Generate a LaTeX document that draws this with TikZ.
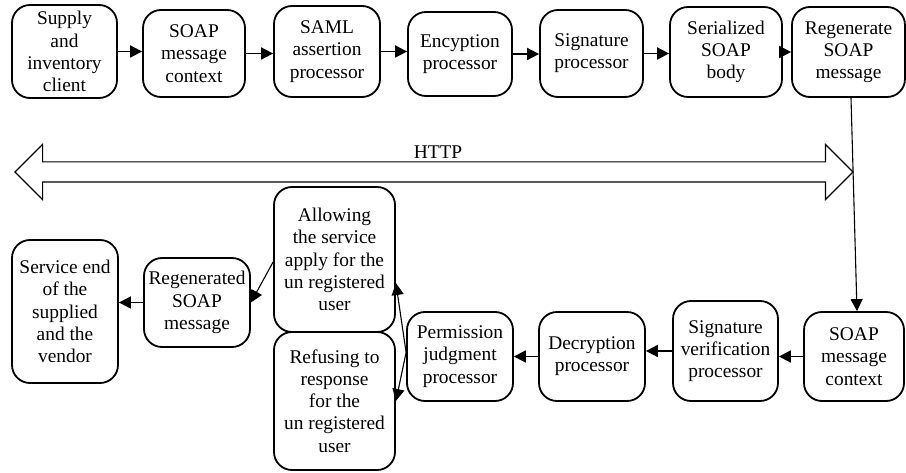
\documentclass[tikz,border=0pt]{standalone}
\usepackage{fontspec}
\setmainfont{Liberation Serif}
\usetikzlibrary{shapes.arrows}
\usetikzlibrary{arrows.meta}
\tikzset{>={Triangle[length=12pt,width=12pt]}}
\tikzset{
  procbox/.style={
    draw, line width=1.8pt, rounded corners=18pt,
    align=center, inner sep=0pt,
    font=\fontsize{19.4pt}{22.2pt}\selectfont
  }}
\tikzset{
  flow/.style={->, line width=1.8pt}}
\tikzset{
  thinflow/.style={->, line width=1.1pt}}

\begin{document}
\begin{tikzpicture}[x=1pt,y=-1pt]
    \useasboundingbox (0,0) rectangle (906,473);
    % sending side
    \node[procbox,minimum width=105pt,minimum height=93pt] (client) at (64.5,51.5) {Supply\\and\\inventory\\client};
    \node[procbox,minimum width=102pt,minimum height=87pt] (ctxout) at (194,53.5) {SOAP\\message\\context};
    \node[procbox,minimum width=106pt,minimum height=91pt] (saml) at (327,51.5) {SAML\\assertion\\processor};
    \node[procbox,minimum width=104pt,minimum height=84pt] (encproc) at (460,54) {Encyption\\processor};
    \node[procbox,minimum width=103pt,minimum height=87pt] (sigproc) at (591.5,53.5) {Signature\\processor};
    \node[procbox,minimum width=112pt,minimum height=90pt] (serial) at (726,52) {Serialized\\SOAP\\body};
    \node[procbox,minimum width=113pt,minimum height=90pt] (regen) at (848.5,52) {Regenerate\\SOAP\\message};
    \draw[flow] (client.east) -- (client.east -| ctxout.west);
    \draw[flow] (ctxout.east) -- (ctxout.east -| saml.west);
    \draw[flow] (saml.east) -- (saml.east -| encproc.west);
    \draw[flow] (encproc.east) -- (encproc.east -| sigproc.west);
    \draw[flow] (sigproc.east) -- (sigproc.east -| serial.west);
    \draw[flow] (serial.east) -- (serial.east -| regen.west);

    % transport
    \node[double arrow, draw, line width=1.2pt, minimum height=838pt,
      text height=0pt, text depth=0pt, inner sep=9.5pt,
      double arrow head extend=17.5pt, double arrow tip angle=90] (http) at (434,172) {};
    \node[font=\fontsize{19.4pt}{22.2pt}\selectfont] (httptext) at (438,152) {HTTP};

    % receiving side
    \node[procbox,minimum width=100pt,minimum height=89pt] (ctxin) at (854,356.5) {SOAP\\message\\context};
    \node[procbox,minimum width=105pt,minimum height=100pt] (sigver) at (725.5,351) {Signature\\verification\\processor};
    \node[procbox,minimum width=106pt,minimum height=89pt] (decproc) at (592,356.5) {Decryption\\processor};
    \node[procbox,minimum width=106pt,minimum height=89pt] (permit) at (460,356.5) {Permission\\judgment\\processor};
    \node[procbox,minimum width=121pt,minimum height=145pt] (allow) at (334.5,259.5) {Allowing\\the service\\apply for the\\un registered\\user};
    \node[procbox,minimum width=121pt,minimum height=138pt] (refuse) at (334.5,401) {Refusing to\\response\\for the\\un registered\\user};
    \node[procbox,minimum width=106pt,minimum height=89pt] (regenerated) at (197,302.5) {Regenerated\\SOAP\\message};
    \node[procbox,minimum width=106pt,minimum height=143pt] (vendor) at (65,311.5) {Service end\\of the\\supplied\\and the\\vendor};

    \draw[thinflow] ([xshift=2.5pt]regen.south) -- ([xshift=3pt]ctxin.north);
    \draw[flow] (ctxin.west) -- (ctxin.west -| sigver.east);
    \draw[flow] (sigver.west) -- (sigver.west -| decproc.east);
    \draw[flow] (decproc.west) -- (decproc.west -| permit.east);
    \draw[thinflow] ([yshift=4pt]permit.west) -- ([yshift=-23.5pt]allow.east);
    \draw[thinflow] ([yshift=4pt]permit.west) -- (refuse.east);
    \draw[thinflow] ([yshift=-2.5pt]allow.west) -- (regenerated.east);
    \draw[flow] (regenerated.west) -- (regenerated.west -| vendor.east);
\end{tikzpicture}
\end{document}
